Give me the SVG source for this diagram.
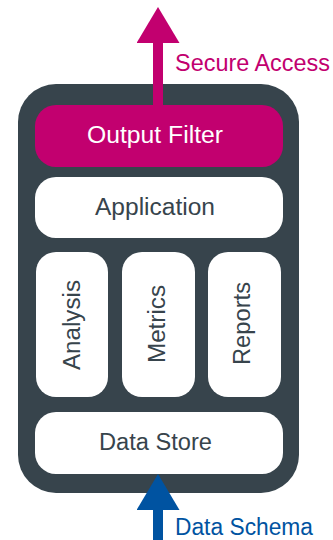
<svg xmlns="http://www.w3.org/2000/svg" width="333" height="540" viewBox="0 0 333 540">
  <style>
    .lbl { font-family: "Liberation Sans", Arial, sans-serif; font-size: 23px; }
    .dark { fill: #37444c; }
    .white { fill: #ffffff; }
    .box { fill: #ffffff; }
  </style>
  <defs>
    <marker id="headM" viewBox="0 0 36 43" refX="0" refY="21.5" markerWidth="36" markerHeight="43" markerUnits="userSpaceOnUse" orient="auto">
      <path d="M0,0 L36,21.5 L0,43 z" fill="#c2006f"/>
    </marker>
    <marker id="headB" viewBox="0 0 36 43" refX="0" refY="21.5" markerWidth="36" markerHeight="43" markerUnits="userSpaceOnUse" orient="auto">
      <path d="M0,0 L36,21.5 L0,43 z" fill="#0053a1"/>
    </marker>
  </defs>
  <rect width="333" height="540" fill="#ffffff"/>
  <g id="container">
    <rect x="18" y="84" width="281" height="409" rx="38" ry="38" fill="#37444c"/>
  </g>
  <g id="output-filter">
    <rect x="35" y="105" width="248" height="62" rx="21" fill="#c2006f"/>
    <text class="lbl white" x="155" y="143" text-anchor="middle" textLength="136" lengthAdjust="spacingAndGlyphs">Output Filter</text>
  </g>
  <g id="application">
    <rect class="box" x="35" y="177" width="248" height="61" rx="21"/>
    <text class="lbl dark" x="155" y="215" text-anchor="middle" textLength="120" lengthAdjust="spacingAndGlyphs">Application</text>
  </g>
  <g id="analysis">
    <rect class="box" x="36" y="252" width="72" height="145" rx="20"/>
    <text class="lbl dark" transform="translate(80,325) rotate(-90)" x="0" y="0" text-anchor="middle" textLength="90" lengthAdjust="spacingAndGlyphs">Analysis</text>
  </g>
  <g id="metrics">
    <rect class="box" x="122" y="252" width="73" height="145" rx="20"/>
    <text class="lbl dark" transform="translate(165,324) rotate(-90)" x="0" y="0" text-anchor="middle" textLength="78" lengthAdjust="spacingAndGlyphs">Metrics</text>
  </g>
  <g id="reports">
    <rect class="box" x="208" y="252" width="73" height="145" rx="20"/>
    <text class="lbl dark" transform="translate(250,323.5) rotate(-90)" x="0" y="0" text-anchor="middle" textLength="83" lengthAdjust="spacingAndGlyphs">Reports</text>
  </g>
  <g id="data-store">
    <rect class="box" x="35" y="412" width="248" height="62" rx="21"/>
    <text class="lbl dark" x="155.5" y="450" text-anchor="middle" textLength="113" lengthAdjust="spacingAndGlyphs">Data Store</text>
  </g>
  <g id="connectors">
    <line x1="158" y1="105" x2="158" y2="43" stroke="#c2006f" stroke-width="10" marker-end="url(#headM)"/>
    <text class="lbl" x="175" y="71" fill="#c2006f" textLength="155" lengthAdjust="spacingAndGlyphs">Secure Access</text>
    <line x1="158" y1="540" x2="158" y2="510" stroke="#0053a1" stroke-width="10" marker-end="url(#headB)"/>
    <text class="lbl" x="175" y="535" fill="#0053a1" textLength="138" lengthAdjust="spacingAndGlyphs">Data Schema</text>
  </g>
</svg>
